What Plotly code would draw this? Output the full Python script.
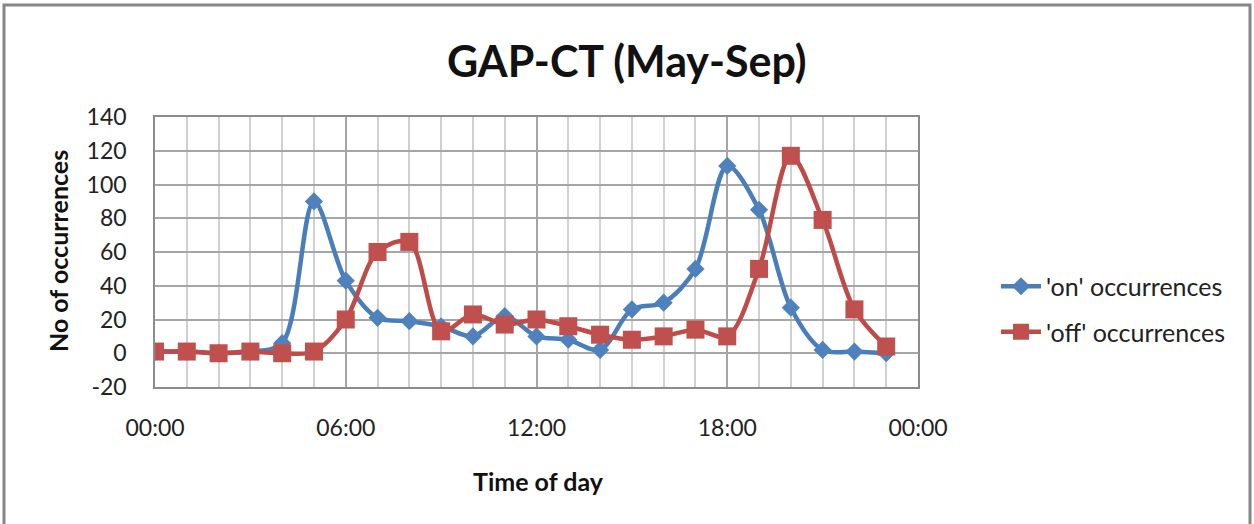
import plotly.graph_objects as go

hours = list(range(24))
on_counts = [1, 1, 0, 1, 6, 90, 43, 21, 19, 16, 10, 22, 10, 8, 2, 26, 30, 50, 111, 85, 27, 2, 1, 0]
off_counts = [1, 1, 0, 1, 0, 1, 20, 60, 66, 13, 23, 17, 20, 16, 11, 8, 10, 14, 10, 50, 117, 79, 26, 4]
x_tick_vals = [0, 6, 12, 18, 24]
x_tick_text = ["00:00", "06:00", "12:00", "18:00", "00:00"]
y_tick_vals = [-20, 0, 20, 40, 60, 80, 100, 120, 140]
y_tick_text = ["-20", "0", "20", "40", "60", "80", "100", "120", "140"]

BLUE = "#4A7EBB"
RED = "#BE4B48"
FONT = "Lato"

L, R, T, B = 155, 918, 117, 387
W, H = 1254, 524


def px_x(px):
    return (px - L) / (R - L)


def px_y(py):
    return (B - py) / (B - T)


fig = go.Figure()
fig.add_trace(go.Scatter(
    x=hours, y=on_counts, name="'on' occurrences", mode="lines+markers",
    line=dict(color=BLUE, width=4.5, shape="spline", smoothing=0.9),
    marker=dict(symbol="diamond", size=14, color="#4F81BD"),
    legendgroup="on",
))
fig.add_trace(go.Scatter(
    x=hours, y=off_counts, name="'off' occurrences", mode="lines+markers",
    line=dict(color=RED, width=4.5, shape="spline", smoothing=0.9),
    marker=dict(symbol="square", size=18, color="#C0504D"),
    legendgroup="off",
))

fig.update_layout(
    width=W, height=H,
    margin=dict(l=L, r=W - R, t=T, b=H - B),
    paper_bgcolor="white", plot_bgcolor="white",
    font=dict(family=FONT, size=23, color="#222"),
    showlegend=True,
    legend=dict(x=px_x(996), y=px_y(309), xanchor="left", yanchor="middle",
                font=dict(size=25, color="#222"), tracegroupgap=10,
                traceorder="grouped", bgcolor="rgba(0,0,0,0)", itemwidth=40),
    xaxis=dict(range=[0, 24], tickvals=x_tick_vals, ticktext=x_tick_text,
               showgrid=True, gridcolor="#A6A6A6", gridwidth=1.5,
               minor=dict(dtick=1, showgrid=True, gridcolor="#D0D0D0", gridwidth=1.5),
               showline=True, linecolor="#8C8C8C", linewidth=1.5, mirror=True,
               zeroline=False, ticks="", ticklabelstandoff=20,
               tickfont=dict(size=23, color="#222")),
    yaxis=dict(range=[-20, 140], tickvals=y_tick_vals, ticktext=y_tick_text,
               showgrid=True, gridcolor="#A6A6A6",
               gridwidth=1.5, showline=True, linecolor="#8C8C8C", linewidth=1.5,
               mirror=True, zeroline=False, ticks="", ticklabelstandoff=22,
               tickfont=dict(size=23, color="#222")),
    annotations=[
        dict(text="<b>GAP-CT (May-Sep)</b>", x=px_x(627), y=px_y(60),
             xref="paper", yref="paper", showarrow=False,
             xanchor="center", yanchor="middle",
             font=dict(size=43, family=FONT, color="#111")),
        dict(text="<b>Time of day</b>", x=px_x(538), y=px_y(481),
             xref="paper", yref="paper", showarrow=False,
             xanchor="center", yanchor="middle",
             font=dict(size=25, family=FONT, color="#111")),
        dict(text="<b>No of occurrences</b>", x=px_x(58), y=px_y(251),
             xref="paper", yref="paper", showarrow=False, textangle=-90,
             xanchor="center", yanchor="middle",
             font=dict(size=25, family=FONT, color="#111")),
    ],
    shapes=[
        dict(type="rect", xref="paper", yref="paper",
             x0=px_x(4), x1=px_x(1250), y0=px_y(540), y1=px_y(5),
             line=dict(color="#868686", width=3), layer="below"),
    ],
)

fig.write_html("out.html", config={"displayModeBar": False},
               post_script="document.body.style.margin='0';")
